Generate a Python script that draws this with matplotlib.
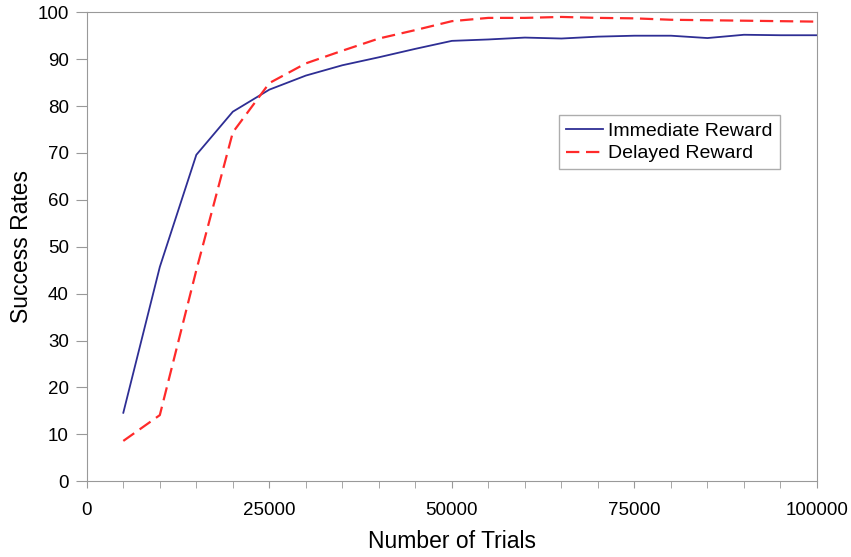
import numpy as np
import matplotlib
matplotlib.use("Agg")
import matplotlib.pyplot as plt
from matplotlib.ticker import MultipleLocator

plt.rcParams['font.family'] = ['Liberation Sans', 'DejaVu Sans']

trials = [5000, 10000, 15000, 20000, 25000, 30000, 35000, 40000, 45000, 50000,
          55000, 60000, 65000, 70000, 75000, 80000, 85000, 90000, 95000, 100000]
immediate = [14.6, 45.7, 69.6, 78.8, 83.5, 86.5, 88.7, 90.4, 92.2, 93.9,
             94.2, 94.6, 94.4, 94.8, 95.0, 95.0, 94.5, 95.2, 95.1, 95.1]
delayed = [8.6, 14.1, 45.0, 74.4, 84.9, 89.1, 91.8, 94.4, 96.2, 98.1,
           98.8, 98.8, 99.0, 98.8, 98.7, 98.4, 98.3, 98.2, 98.1, 98.0]

fig = plt.figure(figsize=(8.51, 5.57), dpi=100)
ax = fig.add_axes([0.102, 0.136, 0.858, 0.842])

ax.plot(trials, immediate, color='#2e2e94', lw=1.3, label='Immediate Reward')
ax.plot(trials, delayed, color='#ff2a2a', lw=1.6, ls=(0, (6, 3)), label='Delayed Reward')

ax.set_xlim(0, 100000)
ax.set_ylim(0, 100)
ax.xaxis.set_major_locator(MultipleLocator(25000))
ax.xaxis.set_minor_locator(MultipleLocator(5000))
ax.yaxis.set_major_locator(MultipleLocator(10))

for s in ax.spines.values():
    s.set_color('#999999')
ax.tick_params(which='both', direction='out', colors='#999999', labelcolor='black',
               labelsize=13.5)
ax.tick_params(axis='x', which='both', length=5, pad=10)
ax.tick_params(axis='y', length=8, pad=5)

ax.set_xlabel('Number of Trials', fontsize=16.5, labelpad=8)
ax.set_ylabel('Success Rates', fontsize=16.5, labelpad=3)

leg = ax.legend(loc='upper right', bbox_to_anchor=(0.949, 0.78), fontsize=14,
                fancybox=False, edgecolor='#999999', handlelength=1.9,
                borderpad=0.35, labelspacing=0.25, handletextpad=0.3,
                borderaxespad=0)
leg.get_frame().set_linewidth(1.0)

fig.savefig('out.png', dpi=100)
